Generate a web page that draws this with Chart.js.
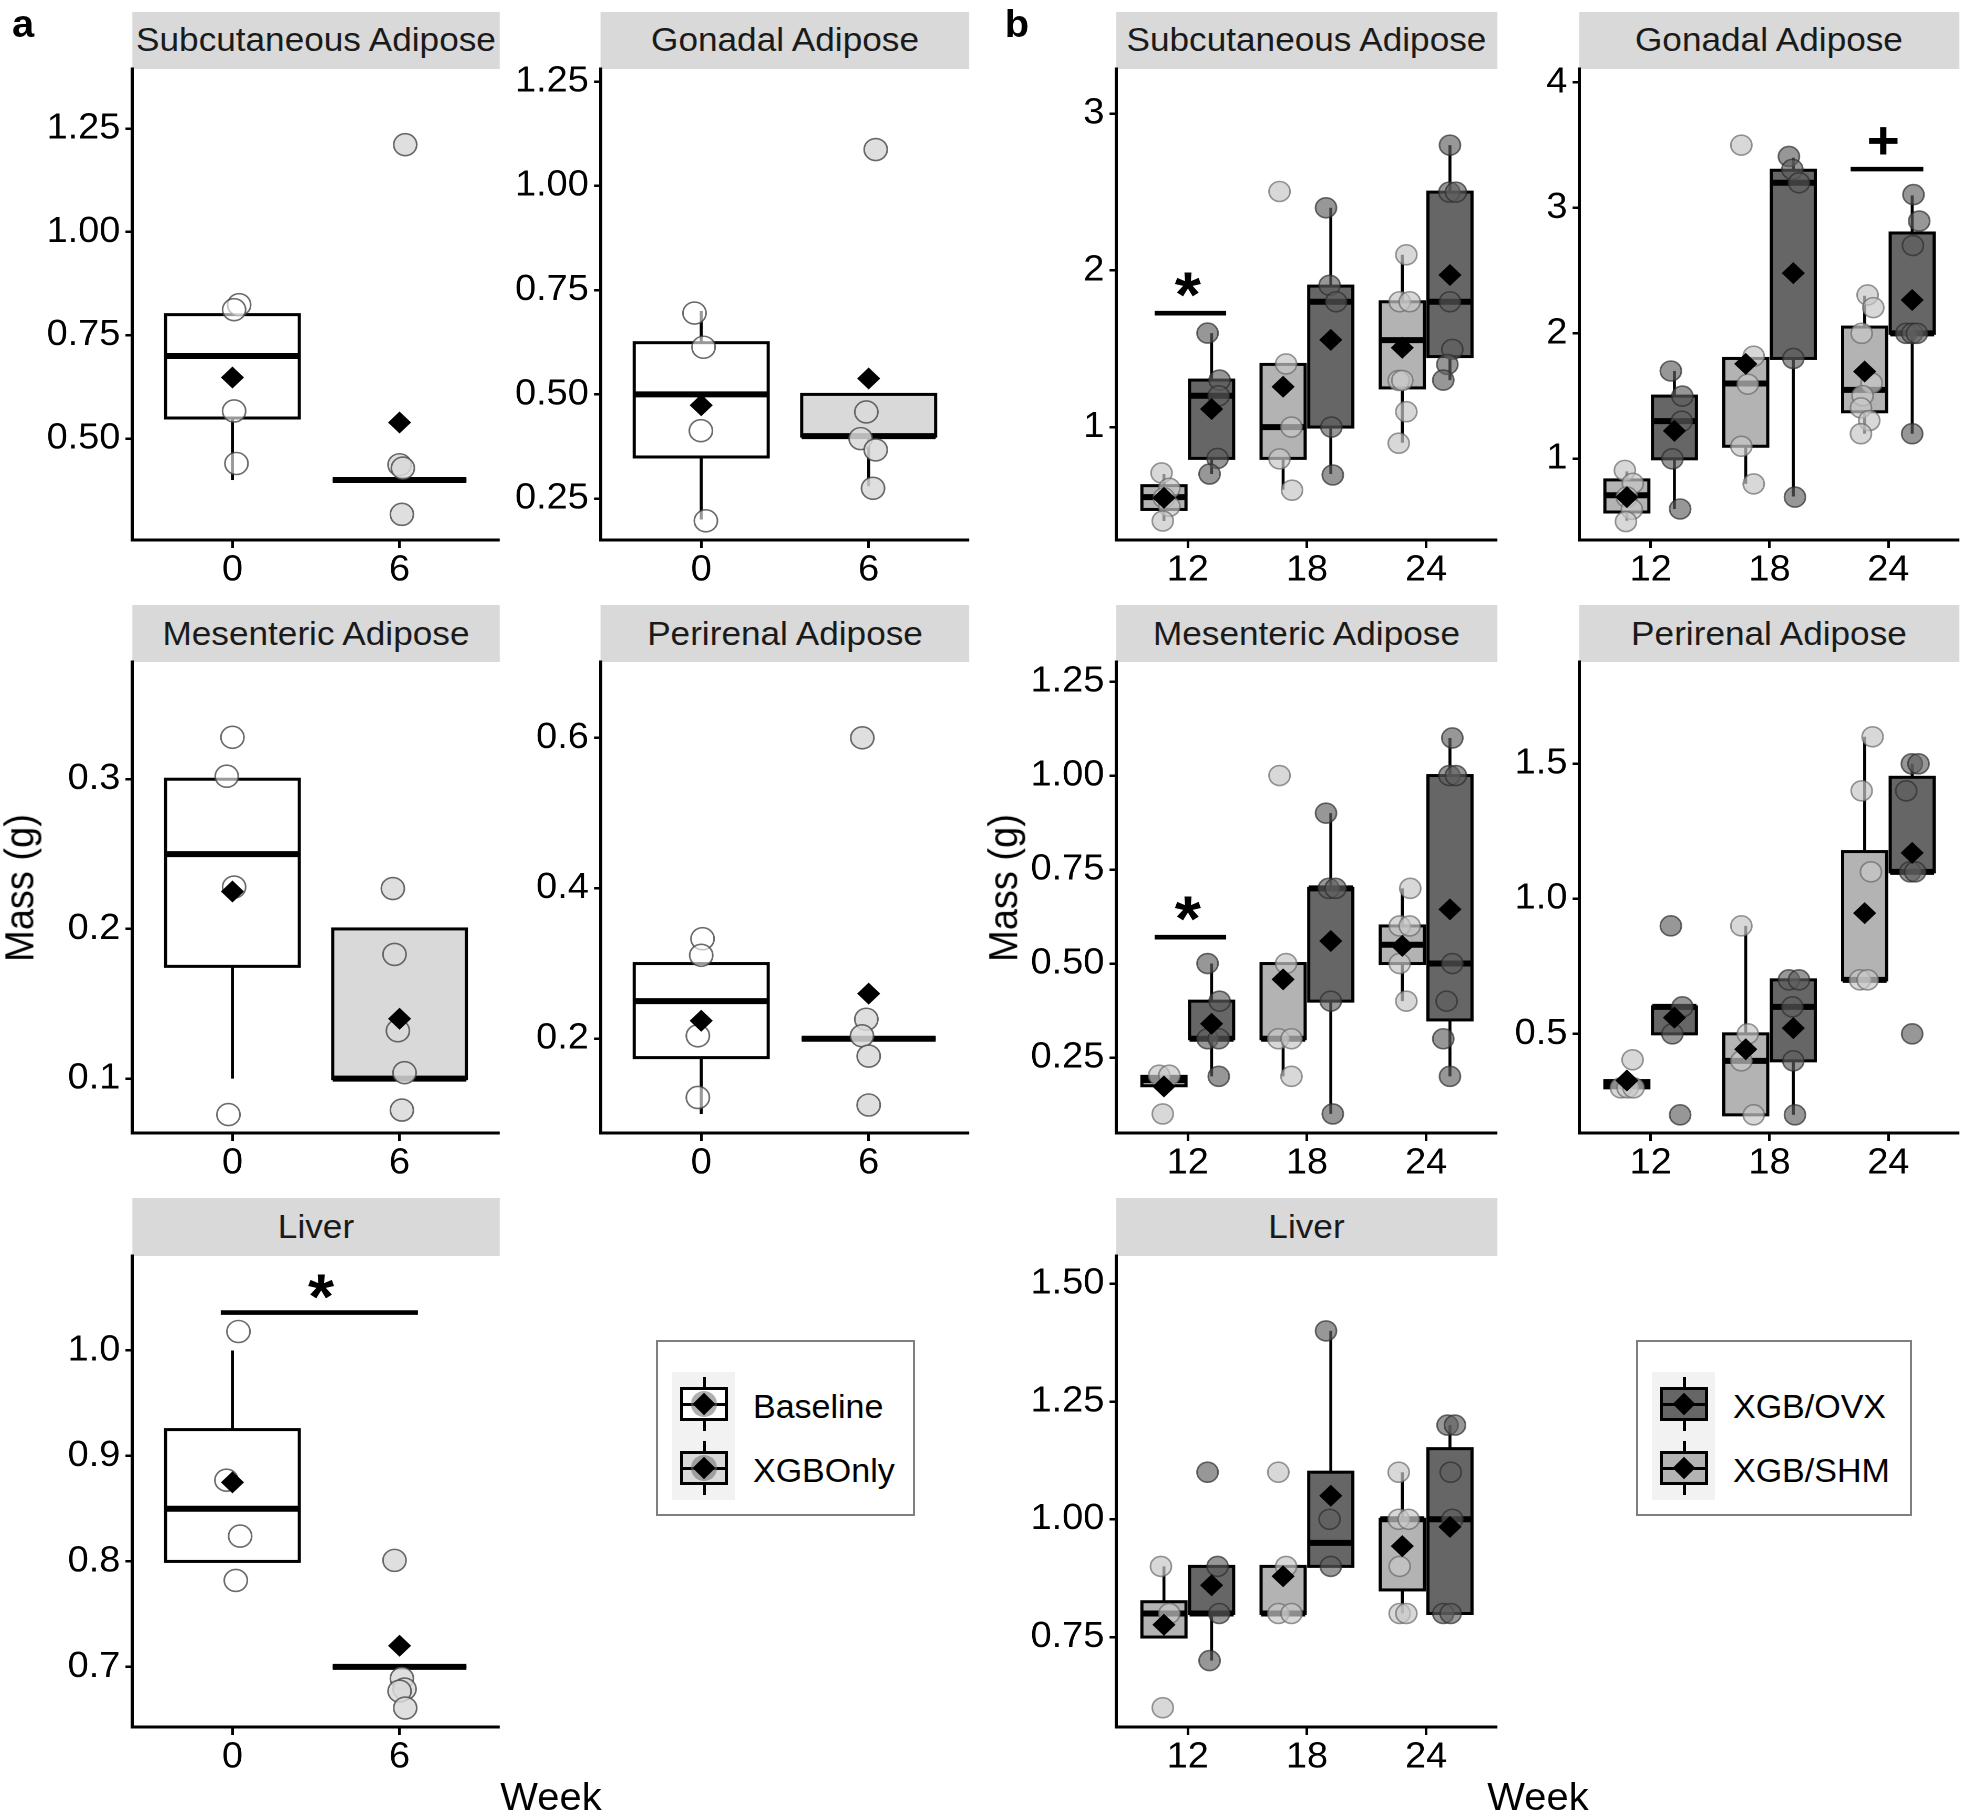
<!DOCTYPE html>
<html>
<head>
<meta charset="utf-8">
<script src="https://cdn.jsdelivr.net/npm/chart.js@4.4.1/dist/chart.umd.min.js"></script>
<style>
  html, body { margin: 0; padding: 0; background: #fff; }
  body { width: 1968px; height: 1812px; position: relative; overflow: hidden; font-family: 'Liberation Sans', Arial, sans-serif; }
  #fig { position: absolute; left: 0; top: 0; width: 1875px; height: 1812px; transform: scaleX(1.05); transform-origin: 0 0; }
  .cbox { position: absolute; }
  .strip { position: absolute; background: #d9d9d9; color: #1a1a1a; font-size: 33.5px; display: flex; align-items: center; justify-content: center; white-space: nowrap; }
  .lbl { position: absolute; color: #000; font-size: 38px; white-space: nowrap; transform: translate(-50%, -50%); }
  .ylab { position: absolute; color: #000; font-size: 38px; white-space: nowrap; transform: translate(-50%, -50%) rotate(-90deg); }
  .tag { position: absolute; font-weight: bold; font-size: 38px; transform: translate(-50%, -50%); }
  .legend { position: absolute; border: 2px solid #7f7f7f; box-sizing: border-box; background: #fff; }
  .lg { position: absolute; box-sizing: border-box; }
  .lgtext { position: absolute; font-size: 34px; color: #000; line-height: 1; transform: translateY(-50%); white-space: nowrap; }
</style>
</head>
<body>
<div id="fig"></div>
<script>
// ---- panel a: week 0 (Baseline) vs week 6 (XGBOnly)
const aWeeks = ['0', '6'];
const aGroups = ['Baseline', 'XGBOnly'];

// box stats: [lower whisker, q1, median, q3, upper whisker]
const aSubBox = [[0.40, 0.55, 0.70, 0.80, 0.80], [0.40, 0.40, 0.40, 0.40, 0.40]];
const aSubMean = [0.648, 0.539];
const aSubPts = [[0.824, 0.812, 0.567, 0.440], [1.211, 0.437, 0.429, 0.317]];
const aSubJit = [[0.04, 0.01, 0.01, 0.024], [0.034, 0, 0.02, 0.014]];
const aSubTicks = [0.5, 0.75, 1.0, 1.25];
const aSubLabels = ['0.50', '0.75', '1.00', '1.25'];

const aGonBox = [[0.20, 0.35, 0.50, 0.624, 0.70], [0.28, 0.40, 0.40, 0.50, 0.50]];
const aGonMean = [0.474, 0.538];
const aGonPts = [[0.695, 0.613, 0.413, 0.197], [1.087, 0.458, 0.394, 0.367, 0.275]];
const aGonJit = [[-0.04, 0.014, -0.002, 0.028], [0.042, -0.014, -0.048, 0.042, 0.026]];
const aGonTicks = [0.25, 0.5, 0.75, 1.0, 1.25];
const aGonLabels = ['0.25', '0.50', '0.75', '1.00', '1.25'];

const aMesBox = [[0.10, 0.175, 0.25, 0.30, 0.30], [0.10, 0.10, 0.10, 0.20, 0.20]];
const aMesMean = [0.225, 0.140];
const aMesPts = [[0.328, 0.302, 0.228, 0.076], [0.227, 0.183, 0.132, 0.104, 0.079]];
const aMesJit = [[0, -0.034, 0.01, -0.024], [-0.04, -0.03, -0.01, 0.03, 0.014]];
const aMesTicks = [0.1, 0.2, 0.3];
const aMesLabels = ['0.1', '0.2', '0.3'];

const aPerBox = [[0.10, 0.175, 0.25, 0.30, 0.30], [0.20, 0.20, 0.20, 0.20, 0.20]];
const aPerMean = [0.224, 0.260];
const aPerPts = [[0.333, 0.311, 0.204, 0.122], [0.600, 0.226, 0.204, 0.177, 0.112]];
const aPerJit = [[0.008, 0, -0.02, -0.02], [-0.038, -0.014, -0.04, 0, 0]];
const aPerTicks = [0.2, 0.4, 0.6];
const aPerLabels = ['0.2', '0.4', '0.6'];

const aLivBox = [[0.80, 0.80, 0.85, 0.925, 1.00], [0.70, 0.70, 0.70, 0.70, 0.70]];
const aLivMean = [0.875, 0.720];
const aLivPts = [[1.018, 0.877, 0.824, 0.782], [0.801, 0.689, 0.679, 0.677, 0.661]];
const aLivJit = [[0.036, -0.036, 0.046, 0.02], [-0.03, 0.014, 0.03, 0, 0.034]];
const aLivTicks = [0.7, 0.8, 0.9, 1.0];
const aLivLabels = ['0.7', '0.8', '0.9', '1.0'];
const aLivSig = [0.93, 2.11, 1.036, '*', 1.53, 1.061];

// ---- panel b: weeks 12/18/24, XGB/SHM (left) vs XGB/OVX (right)
const bWeeks = ['12', '18', '24'];
const bGroups = ['XGB/OVX', 'XGB/SHM'];

const bSubShmBox = [[0.40, 0.474, 0.553, 0.626, 0.70], [0.60, 0.80, 1.00, 1.40, 1.40], [0.90, 1.25, 1.555, 1.80, 2.10]];
const bSubShmMean = [0.548, 1.257, 1.506];
const bSubShmPts = [[0.707, 0.609, 0.548, 0.494, 0.40], [2.504, 1.403, 1.0, 0.797, 0.597], [2.10, 1.80, 1.80, 1.298, 1.298, 1.098, 0.897]];
const bSubShmJit = [[-0.02, 0.045, 0, 0.045, -0.01], [-0.03, 0.025, 0.07, -0.03, 0.075], [0.034, -0.022, 0.062, -0.03, 0, 0.034, -0.03]];
const bSubOvxBox = [[0.70, 0.80, 1.20, 1.30, 1.60], [0.70, 1.00, 1.80, 1.90, 2.40], [1.30, 1.45, 1.80, 2.50, 2.80]];
const bSubOvxMean = [1.115, 1.557, 1.971];
const bSubOvxPts = [[1.60, 1.30, 1.20, 0.80, 0.70], [2.40, 1.905, 1.80, 1.0, 0.694], [2.80, 2.50, 2.50, 1.80, 1.496, 1.40, 1.30]];
const bSubOvxJit = [[-0.034, 0.067, 0.06, 0.05, -0.017], [-0.04, -0.01, 0.045, 0.005, 0.017], [0, -0.005, 0.05, 0, 0.02, -0.022, -0.056]];
const bSubTicks = [1, 2, 3];
const bSubLabels = ['1', '2', '3'];
const bSubSig = [0.722, 1.322, 1.727, '*', 1.0, 1.913];

const bGonShmBox = [[0.506, 0.576, 0.71, 0.832, 0.90], [0.80, 1.10, 1.60, 1.80, 1.80], [1.20, 1.375, 1.55, 2.05, 2.30]];
const bGonShmMean = [0.695, 1.757, 1.696];
const bGonShmPts = [[0.908, 0.805, 0.695, 0.597, 0.50], [3.50, 1.818, 1.595, 1.10, 0.80], [2.306, 2.205, 2.0, 1.604, 1.503, 1.406, 1.305, 1.20]];
const bGonShmJit = [[-0.017, 0.05, 0, 0.042, -0.008], [-0.037, 0.067, 0.017, -0.037, 0.067], [0.025, 0.073, -0.025, 0.059, -0.017, -0.031, 0.039, -0.031]];
const bGonOvxBox = [[0.60, 1.00, 1.30, 1.50, 1.70], [0.70, 1.80, 3.20, 3.30, 3.40], [1.20, 2.00, 2.00, 2.80, 3.10]];
const bGonOvxMean = [1.223, 2.48, 2.266];
const bGonOvxPts = [[1.70, 1.50, 1.30, 1.00, 0.60], [3.41, 3.307, 3.20, 1.80, 0.695], [3.106, 2.895, 2.70, 2.0, 2.0, 2.0, 1.20]];
const bGonOvxJit = [[-0.03, 0.067, 0.062, -0.017, 0.048], [-0.037, -0.008, 0.048, 0, 0.014], [0.011, 0.059, 0.006, -0.05, 0, 0.04, 0]];
const bGonTicks = [1, 2, 3, 4];
const bGonLabels = ['1', '2', '3', '4'];
const bGonSig = [2.682, 3.294, 3.309, '+', 2.957, 3.538];

const bMesShmBox = [[0.175, 0.175, 0.19, 0.20, 0.20], [0.20, 0.30, 0.30, 0.50, 0.50], [0.40, 0.50, 0.55, 0.60, 0.70]];
const bMesShmMean = [0.173, 0.458, 0.547];
const bMesShmPts = [[0.203, 0.203, 0.10], [1.0, 0.5, 0.3, 0.3, 0.2], [0.7, 0.6, 0.6, 0.5, 0.4]];
const bMesShmJit = [[-0.04, 0.045, -0.01], [-0.03, 0.025, -0.04, 0.07, 0.07], [0.067, -0.022, 0.062, -0.022, 0.034]];
const bMesOvxBox = [[0.20, 0.30, 0.30, 0.40, 0.50], [0.10, 0.40, 0.70, 0.70, 0.90], [0.20, 0.35, 0.50, 1.00, 1.10]];
const bMesOvxMean = [0.34, 0.56, 0.644];
const bMesOvxPts = [[0.5, 0.4, 0.3, 0.3, 0.2], [0.9, 0.7, 0.7, 0.4, 0.1], [1.1, 1.0, 1.0, 0.5, 0.4, 0.3, 0.2]];
const bMesOvxJit = [[-0.034, 0.067, -0.034, 0.06, 0.06], [-0.04, -0.017, 0.04, 0, 0.017], [0.02, -0.005, 0.05, 0.02, -0.028, -0.056, 0]];
const bMesTicks = [0.25, 0.5, 0.75, 1.0, 1.25];
const bMesLabels = ['0.25', '0.50', '0.75', '1.00', '1.25'];
const bMesSig = [0.722, 1.322, 0.570, '*', 1.0, 0.648];

const bPerShmBox = [[0.30, 0.30, 0.315, 0.327, 0.327], [0.20, 0.20, 0.40, 0.50, 0.90], [0.70, 0.70, 0.70, 1.175, 1.60]];
const bPerShmMean = [0.327, 0.443, 0.947];
const bPerShmPts = [[0.404, 0.30, 0.30, 0.30], [0.9, 0.5, 0.4, 0.2], [1.6, 1.4, 1.1, 0.7, 0.7]];
const bPerShmJit = [[0.048, -0.05, 0.006, 0.056], [-0.037, 0.017, -0.037, 0.067], [0.067, -0.025, 0.053, -0.039, 0.025]];
const bPerOvxBox = [[0.50, 0.50, 0.60, 0.60, 0.60], [0.20, 0.40, 0.60, 0.70, 0.70], [1.10, 1.10, 1.10, 1.45, 1.50]];
const bPerOvxMean = [0.56, 0.521, 1.17];
const bPerOvxPts = [[0.9, 0.6, 0.5, 0.2], [0.7, 0.7, 0.6, 0.4, 0.2], [1.5, 1.5, 1.4, 1.1, 1.1, 0.5]];
const bPerOvxJit = [[-0.03, 0.067, -0.017, 0.048], [-0.037, 0.048, -0.008, 0, 0.014], [-0.003, 0.053, -0.05, -0.017, 0.025, 0]];
const bPerTicks = [0.5, 1.0, 1.5];
const bPerLabels = ['0.5', '1.0', '1.5'];

const bLivShmBox = [[0.75, 0.75, 0.80, 0.825, 0.90], [0.80, 0.80, 0.80, 0.90, 0.90], [0.80, 0.85, 1.00, 1.00, 1.10]];
const bLivShmMean = [0.776, 0.879, 0.943];
const bLivShmPts = [[0.9, 0.8, 0.6], [1.1, 0.9, 0.8, 0.8], [1.1, 1.0, 1.0, 0.9, 0.8, 0.8]];
const bLivShmJit = [[-0.025, 0.045, -0.01], [-0.04, 0.025, -0.04, 0.07], [-0.03, -0.03, 0.053, -0.022, -0.022, 0.034]];
const bLivOvxBox = [[0.70, 0.80, 0.80, 0.90, 0.90], [0.90, 0.90, 0.95, 1.10, 1.40], [0.80, 0.80, 1.00, 1.15, 1.20]];
const bLivOvxMean = [0.86, 1.05, 0.984];
const bLivOvxPts = [[1.1, 0.9, 0.8, 0.7], [1.4, 1.0, 0.9], [1.2, 1.2, 1.1, 1.0, 0.8, 0.8]];
const bLivOvxJit = [[-0.034, 0.05, 0.064, -0.017], [-0.04, -0.01, 0], [-0.02, 0.042, 0.006, 0.02, -0.056, 0.006]];
const bLivTicks = [0.75, 1.0, 1.25, 1.5];
const bLivLabels = ['0.75', '1.00', '1.25', '1.50'];

// ---- layout (reference pixels); text in the figure is slightly wide, so stretch a little
const S = 1.05;
const ux = v => v / S;
const COLS = { a1: [132, 500], a2: [601, 969], b1: [1116, 1497], b2: [1579, 1959] };
// [strip top, plot top, plot bottom]
const ROWS = [[11.5, 69, 540], [605, 662, 1133], [1198, 1256, 1727]];
const YW = 100, XH = 62, TOP = 30;
const TICK_FONT = { family: "'Liberation Sans', Arial, sans-serif", size: 36 };

const A_FILL = ['#ffffff', '#d9d9d9'];
const A_PT_FILL = ['rgba(255,255,255,0.6)', 'rgba(217,217,217,0.85)'];
const A_PT_LINE = 'rgba(70,70,70,0.8)';
const SHM_FILL = '#b3b3b3', OVX_FILL = '#666666';
const SHM_PT = ['rgba(200,200,200,0.7)', 'rgba(105,105,105,0.7)'];
const OVX_PT = ['rgba(95,95,95,0.65)', 'rgba(45,45,45,0.7)'];

const fig = document.getElementById('fig');

function el(cls, style, text, parent) {
  const d = document.createElement('div');
  d.className = cls;
  Object.assign(d.style, style);
  if (text) d.textContent = text;
  (parent || fig).appendChild(d);
  return d;
}

function boxLayer(p) {
  return {
    id: 'boxLayer',
    beforeDatasetsDraw(chart) {
      const { ctx, scales: { x, y } } = chart;
      ctx.save();
      ctx.strokeStyle = '#000';
      for (const b of p.boxes) {
        const [lo, q1, med, q3, hi] = b.s;
        const cx = x.getPixelForValue(b.x);
        const l = x.getPixelForValue(b.x - b.w / 2);
        const r = x.getPixelForValue(b.x + b.w / 2);
        ctx.lineWidth = 2.8;
        ctx.beginPath();
        ctx.moveTo(cx, y.getPixelForValue(hi)); ctx.lineTo(cx, y.getPixelForValue(q3));
        ctx.moveTo(cx, y.getPixelForValue(q1)); ctx.lineTo(cx, y.getPixelForValue(lo));
        ctx.stroke();
        const t = y.getPixelForValue(q3), bt = y.getPixelForValue(q1);
        ctx.fillStyle = b.fill;
        ctx.fillRect(l, t, r - l, bt - t);
        ctx.lineWidth = 3;
        ctx.strokeRect(l, t, r - l, bt - t);
        const ym = y.getPixelForValue(med);
        ctx.lineWidth = 6;
        ctx.beginPath(); ctx.moveTo(l, ym); ctx.lineTo(r, ym); ctx.stroke();
      }
      ctx.restore();
    },
    afterDatasetsDraw(chart) {
      if (!p.sig) return;
      const { ctx, scales: { x, y } } = chart;
      const [x0, x1, yv, txt, tx, ty] = p.sig;
      ctx.save();
      ctx.strokeStyle = '#000';
      ctx.lineWidth = 4.6;
      ctx.beginPath();
      ctx.moveTo(x.getPixelForValue(x0), y.getPixelForValue(yv));
      ctx.lineTo(x.getPixelForValue(x1), y.getPixelForValue(yv));
      ctx.stroke();
      ctx.fillStyle = '#000';
      ctx.font = txt === '*' ? "bold 64px 'Liberation Sans'" : "bold 54px 'Liberation Sans'";
      ctx.textAlign = 'center';
      ctx.textBaseline = 'alphabetic';
      const m = ctx.measureText(txt);
      ctx.fillText(txt, x.getPixelForValue(tx), y.getPixelForValue(ty) + (m.actualBoundingBoxAscent - m.actualBoundingBoxDescent) / 2);
      ctx.restore();
    }
  };
}

function makeChart(p) {
  const [ax, rx] = COLS[p.col];
  const [st, pt, pb] = ROWS[p.row];
  el('strip', { left: ux(ax) + 'px', top: st + 'px', width: (ux(rx) - ux(ax)) + 'px', height: (pt - st) + 'px' }, p.title);
  const w = ux(rx) - ux(ax) + YW, h = pb - pt + XH + TOP;
  const holder = el('cbox', { left: (ux(ax) - YW) + 'px', top: (pt - TOP) + 'px', width: w + 'px', height: h + 'px' });
  const cv = document.createElement('canvas');
  holder.appendChild(cv);

  new Chart(cv, {
    type: 'scatter',
    data: { datasets: p.sets },
    options: {
      responsive: true,
      maintainAspectRatio: false,
      animation: false,
      devicePixelRatio: 2,
      layout: { padding: { top: TOP, left: 0, right: 0, bottom: 0 }, autoPadding: false },
      plugins: { legend: { display: false }, tooltip: { enabled: false } },
      scales: {
        x: {
          type: 'linear', min: 0.4, max: p.cats.length + 0.6,
          afterBuildTicks: s => { s.ticks = p.cats.map((c, i) => ({ value: i + 1 })); },
          afterFit: s => { s.height = XH; s.paddingLeft = 0; s.paddingRight = 0; },
          ticks: { callback: (v, i) => p.cats[i], font: TICK_FONT, color: '#000', padding: 1, maxRotation: 0, autoSkip: false },
          grid: { display: true, drawOnChartArea: false, drawTicks: true, tickLength: 8, color: '#000', lineWidth: 2.5 },
          border: { display: true, color: '#000', width: 3 }
        },
        y: {
          type: 'linear', min: p.range[0], max: p.range[1],
          afterBuildTicks: s => { s.ticks = p.ticks.map(v => ({ value: v })); },
          afterFit: s => { s.width = YW; s.paddingTop = 0; s.paddingBottom = 0; },
          ticks: { callback: (v, i) => p.labels[i], font: TICK_FONT, color: '#000', padding: 5, autoSkip: false },
          grid: { display: true, drawOnChartArea: false, drawTicks: true, tickLength: 6.4, color: '#000', lineWidth: 2.5 },
          border: { display: true, color: '#000', width: 3 }
        }
      }
    },
    plugins: [boxLayer(p)]
  });
}

function ptSet(data, fill, line, r) {
  return { data, pointStyle: 'circle', pointRadius: r, pointHoverRadius: r, borderWidth: 1.6, backgroundColor: fill, borderColor: line, clip: false };
}
function meanSet(data) {
  return { data, pointStyle: 'rectRot', pointRadius: 11, pointHoverRadius: 11, backgroundColor: '#000', borderColor: '#000', borderWidth: 0, clip: false };
}

function buildA(col, row, title, range, ticks, labels, box, mean, pts, jit, sig) {
  const boxes = box.map((s, g) => ({ x: g + 1, w: 0.8, s, fill: A_FILL[g] }));
  const sets = [meanSet(mean.map((m, g) => ({ x: g + 1, y: m })))];
  pts.forEach((arr, g) => {
    sets.push(ptSet(arr.map((v, i) => ({ x: g + 1 + jit[g][i], y: v })), A_PT_FILL[g], A_PT_LINE, 11));
  });
  makeChart({ col, row, title, range, ticks, labels, cats: aWeeks, boxes, sets, sig });
}

function buildB(col, row, title, range, ticks, labels, shm, ovx, sig) {
  const groups = [[shm, -0.2, SHM_FILL, SHM_PT], [ovx, 0.2, OVX_FILL, OVX_PT]];
  const boxes = [];
  const means = [];
  const sets = [];
  groups.forEach(([[box, mean, pts, jit], dx, fill, ptc]) => {
    box.forEach((s, k) => boxes.push({ x: k + 1 + dx, w: 0.37, s, fill }));
    mean.forEach((m, k) => means.push({ x: k + 1 + dx, y: m }));
    const data = [];
    pts.forEach((arr, k) => arr.forEach((v, i) => data.push({ x: k + 1 + dx + jit[k][i], y: v })));
    sets.push(ptSet(data, ptc[0], ptc[1], 10));
  });
  sets.unshift(meanSet(means));
  makeChart({ col, row, title, range, ticks, labels, cats: bWeeks, boxes, sets, sig });
}

buildA('a1', 0, 'Subcutaneous Adipose', [0.255, 1.394], aSubTicks, aSubLabels, aSubBox, aSubMean, aSubPts, aSubJit);
buildA('a2', 0, 'Gonadal Adipose', [0.151, 1.280], aGonTicks, aGonLabels, aGonBox, aGonMean, aGonPts, aGonJit);
buildA('a1', 1, 'Mesenteric Adipose', [0.0637, 0.3783], aMesTicks, aMesLabels, aMesBox, aMesMean, aMesPts, aMesJit);
buildA('a2', 1, 'Perirenal Adipose', [0.0748, 0.7008], aPerTicks, aPerLabels, aPerBox, aPerMean, aPerPts, aPerJit);
buildA('a1', 2, 'Liver', [0.643, 1.0896], aLivTicks, aLivLabels, aLivBox, aLivMean, aLivPts, aLivJit, aLivSig);

buildB('b1', 0, 'Subcutaneous Adipose', [0.279, 3.286], bSubTicks, bSubLabels,
  [bSubShmBox, bSubShmMean, bSubShmPts, bSubShmJit], [bSubOvxBox, bSubOvxMean, bSubOvxPts, bSubOvxJit], bSubSig);
buildB('b2', 0, 'Gonadal Adipose', [0.353, 4.107], bGonTicks, bGonLabels,
  [bGonShmBox, bGonShmMean, bGonShmPts, bGonShmJit], [bGonOvxBox, bGonOvxMean, bGonOvxPts, bGonOvxJit], bGonSig);
buildB('b1', 1, 'Mesenteric Adipose', [0.0493, 1.302], bMesTicks, bMesLabels,
  [bMesShmBox, bMesShmMean, bMesShmPts, bMesShmJit], [bMesOvxBox, bMesOvxMean, bMesOvxPts, bMesOvxJit], bMesSig);
buildB('b2', 1, 'Perirenal Adipose', [0.1328, 1.877], bPerTicks, bPerLabels,
  [bPerShmBox, bPerShmMean, bPerShmPts, bPerShmJit], [bPerOvxBox, bPerOvxMean, bPerOvxPts, bPerOvxJit]);
buildB('b1', 2, 'Liver', [0.559, 1.559], bLivTicks, bLivLabels,
  [bLivShmBox, bLivShmMean, bLivShmPts, bLivShmJit], [bLivOvxBox, bLivOvxMean, bLivOvxPts, bLivOvxJit]);

// axis titles and panel tags
el('tag', { left: ux(23) + 'px', top: '24px' }, 'a');
el('tag', { left: ux(1017) + 'px', top: '24px' }, 'b');
el('ylab', { left: ux(20) + 'px', top: '888px' }, 'Mass (g)');
el('ylab', { left: ux(1004) + 'px', top: '888px' }, 'Mass (g)');
el('lbl', { left: ux(551) + 'px', top: '1797px' }, 'Week');
el('lbl', { left: ux(1538) + 'px', top: '1797px' }, 'Week');

// legends (not stretched)
function legend(left, width, names, fills, ring) {
  el('legend', { left: left + 'px', top: '1340px', width: width + 'px', height: '176px' }, '', document.body);
  el('lg', { left: (left + 16) + 'px', top: '1372px', width: '63px', height: '128px', background: '#f2f2f2' }, '', document.body);
  names.forEach((n, i) => {
    const cy = 1404 + i * 64, cx = left + 48;
    el('lg', { left: (cx - 1.5) + 'px', top: (cy - 27) + 'px', width: '3px', height: '54px', background: '#000' }, '', document.body);
    el('lg', { left: (cx - 24) + 'px', top: (cy - 17) + 'px', width: '48px', height: '34px', border: '3px solid #000', background: fills[i] }, '', document.body);
    el('lg', { left: (cx - 24) + 'px', top: (cy - 1.5) + 'px', width: '48px', height: '3px', background: '#000' }, '', document.body);
    if (ring) el('lg', { left: (cx - 13) + 'px', top: (cy - 13) + 'px', width: '26px', height: '26px', borderRadius: '50%', background: 'rgba(110,110,110,0.55)' }, '', document.body);
    el('lg', { left: (cx - 8) + 'px', top: (cy - 8) + 'px', width: '16px', height: '16px', background: '#000', transform: 'rotate(45deg)' }, '', document.body);
    el('lgtext', { left: (left + 97) + 'px', top: (cy + 2) + 'px' }, n, document.body);
  });
}
legend(656, 259, aGroups, A_FILL, true);
legend(1636, 276, bGroups, [OVX_FILL, SHM_FILL], false);
</script>
</body>
</html>
